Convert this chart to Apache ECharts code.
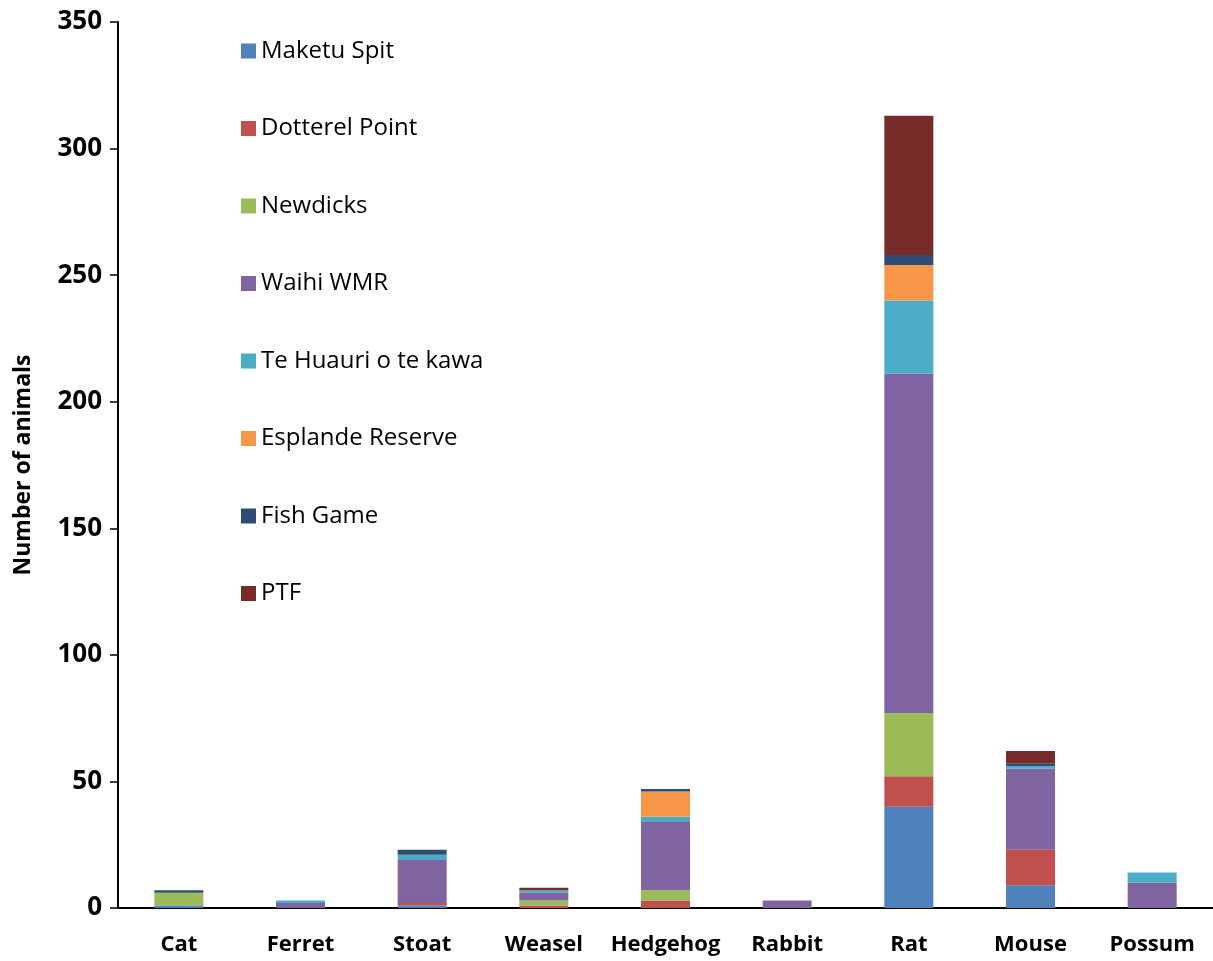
<!DOCTYPE html>
<html>
<head>
<meta charset="utf-8">
<script src="https://cdn.jsdelivr.net/npm/echarts@6/dist/echarts.min.js"></script>
<style>
  html, body { margin: 0; padding: 0; background: #fff; }
  #chart { width: 1213px; height: 961px; }
</style>
</head>
<body>
<div id="chart"></div>
<script>
const animals = ['Cat', 'Ferret', 'Stoat', 'Weasel', 'Hedgehog', 'Rabbit', 'Rat', 'Mouse', 'Possum'];
const sites = ['Maketu Spit', 'Dotterel Point', 'Newdicks', 'Waihi WMR', 'Te Huauri o te kawa', 'Esplande Reserve', 'Fish Game', 'PTF'];
const siteColors = ['#4F81BD', '#C0504D', '#9BBB59', '#8064A2', '#4BACC6', '#F79646', '#2C4D75', '#772C2A'];

// values per site, in the order of animals
const maketuSpit     = [1, 0, 1, 0, 0, 0, 40, 9, 0];
const dotterelPoint  = [0, 0, 1, 1, 3, 0, 12, 14, 0];
const newdicks       = [5, 0, 0, 2, 4, 0, 25, 0, 0];
const waihiWMR       = [0, 2, 17, 3, 27, 3, 134, 32, 10];
const teHuauri       = [0, 1, 2, 1, 2, 0, 29, 1, 4];
const esplande       = [0, 0, 0, 0, 10, 0, 14, 0, 0];
const fishGame       = [1, 0, 2, 0, 1, 0, 4, 1, 0];
const ptf            = [0, 0, 0, 1, 0, 0, 55, 5, 0];

const seriesValues = [maketuSpit, dotterelPoint, newdicks, waihiWMR, teHuauri, esplande, fishGame, ptf];

const chart = echarts.init(document.getElementById('chart'), null, { renderer: 'canvas' });
const font = '"Open Sans", "Liberation Sans", sans-serif';

chart.setOption({
  animation: false,
  backgroundColor: '#fff',
  textStyle: { fontFamily: font },
  grid: { left: 118, right: 0, top: 22, bottom: 53, containLabel: false, outerBoundsMode: 'none' },
  legend: {
    orient: 'vertical',
    left: 236,
    top: 34,
    itemWidth: 15,
    itemHeight: 15,
    itemGap: 53.5,
    icon: 'rect',
    data: sites,
    textStyle: { fontSize: 24, color: '#000', fontFamily: font, lineHeight: 24, padding: [0, 0, 0, 0] }
  },
  xAxis: {
    type: 'category',
    data: animals,
    axisLine: { lineStyle: { color: '#000', width: 2 } },
    axisTick: { show: false },
    axisLabel: { color: '#000', fontSize: 22, fontWeight: 'bold', margin: 26, interval: 0, fontFamily: font }
  },
  yAxis: {
    type: 'value',
    min: 0,
    max: 350,
    interval: 50,
    name: 'Number of animals',
    nameLocation: 'middle',
    nameGap: 83,
    nameTextStyle: { fontSize: 23, fontWeight: 'bold', color: '#000', fontFamily: font },
    splitLine: { show: false },
    axisLine: { show: true, lineStyle: { color: '#000', width: 2 } },
    axisTick: { show: true, length: 8, lineStyle: { color: '#000', width: 1.5 } },
    axisLabel: { color: '#000', fontSize: 26, fontWeight: 'bold', margin: 16, fontFamily: font }
  },
  series: sites.map((name, i) => ({
    name: name,
    type: 'bar',
    stack: 'total',
    barWidth: 49,
    data: seriesValues[i],
    itemStyle: { color: siteColors[i] }
  }))
});
</script>
</body>
</html>
